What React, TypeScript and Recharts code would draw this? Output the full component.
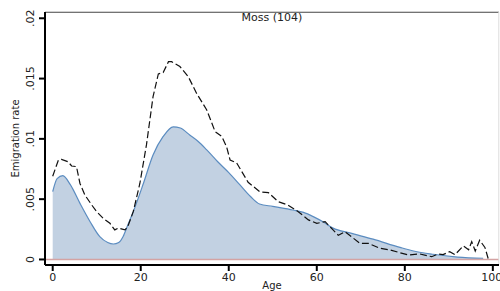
import { ComposedChart, Area, Line, XAxis, YAxis, ReferenceLine, Label } from 'recharts';

// smoothed rate (shaded area)
const areaAges = [0, 1, 2.3, 4, 6.2, 8.5, 10.7, 12.5, 13.8, 15, 16, 17, 18.3, 20.6, 22.8, 25.1, 27.4, 29, 31.2, 33, 35, 37.5, 40, 42.5, 45, 47, 50, 54.6, 57, 59.2, 61.5, 63.7, 67.5, 72.8, 78.9, 82, 86.4, 92, 97.8];
const areaRates = [0.00562, 0.0067, 0.00695, 0.0062, 0.00465, 0.00313, 0.00189, 0.0014, 0.00128, 0.0014, 0.0019, 0.0028, 0.00396, 0.0063, 0.00866, 0.0102, 0.011, 0.0109, 0.0103, 0.0098, 0.00908, 0.0081, 0.0072, 0.0062, 0.0052, 0.0046, 0.0044, 0.0041, 0.0039, 0.00355, 0.0031, 0.0026, 0.0022, 0.00168, 0.001, 0.0007, 0.00043, 0.0002, 0.0001];

// observed rate (dashed line)
const lineAges = [0, 1.3, 2, 3.5, 4.3, 5.4, 6.2, 7.3, 8.9, 10, 11.5, 13, 14.1, 14.9, 16.4, 17, 18.3, 19.8, 21.3, 22.8, 24, 25.1, 26.3, 27, 28.9, 30.8, 32.7, 35, 36.9, 38.4, 39.5, 40.3, 41.8, 44.4, 47.1, 49, 51.2, 53.5, 55.8, 58.1, 60, 61.9, 63.7, 64.9, 66.4, 69.8, 71.7, 74.3, 76.6, 80.8, 83.4, 86.1, 87.6, 88.7, 90.2, 91.4, 93.3, 94.5, 95.2, 96, 97, 98.2, 99];
const lineRates = [0.0069, 0.00825, 0.0083, 0.0081, 0.00775, 0.0077, 0.0063, 0.00535, 0.0045, 0.00396, 0.0034, 0.003, 0.00245, 0.0026, 0.00245, 0.00267, 0.00396, 0.0063, 0.0095, 0.0135, 0.01538, 0.0155, 0.0164, 0.0164, 0.016, 0.01516, 0.01377, 0.0124, 0.0106, 0.0102, 0.00935, 0.00825, 0.008, 0.0064, 0.0056, 0.00554, 0.0048, 0.0045, 0.00396, 0.00328, 0.003, 0.00313, 0.00245, 0.002, 0.0023, 0.00134, 0.00134, 0.00093, 0.00079, 0.00037, 0.00046, 0.00023, 0.00046, 0.0004, 0.00065, 0.0004, 0.00112, 0.0008, 0.00148, 0.0007, 0.0016, 0.001, 0];

const xTicks = [0, 20, 40, 60, 80, 100];
const yTicks = [0, 0.005, 0.01, 0.015, 0.02];

const X_DOMAIN = [-1.75, 101.4];
const Y_DOMAIN = [-0.00046, 0.02052];

const FONT = '"DejaVu Sans", sans-serif';
const AXIS = '#000';

// merge both series onto one age-sorted table
const rows: { age: number; smooth?: number; obs?: number }[] = [];
areaAges.forEach((a, i) => rows.push({ age: a, smooth: areaRates[i] }));
lineAges.forEach((a, i) => {
  const r = rows.find(x => x.age === a);
  if (r) r.obs = lineRates[i];
  else rows.push({ age: a, obs: lineRates[i] });
});
rows.sort((a, b) => a.age - b.age);

const fmt = (v: number) => (v === 0 ? '0' : String(v).replace(/^0\./, '.'));

function YTick({ x, y, payload }: any) {
  const tx = x - 3;
  return (
    <text x={tx} y={y} transform={`rotate(-90 ${tx} ${y})`} textAnchor="middle" fontSize={11} fill="#222" fontFamily={FONT}>
      {fmt(payload.value)}
    </text>
  );
}

export default function App() {
  return (
    <div style={{ position: 'absolute', left: 0, top: 0, width: 500, height: 291, background: '#fff' }}>
      <ComposedChart width={500} height={291} data={rows} margin={{ top: 12, right: 1, left: 0, bottom: 0 }}>
        <XAxis
          dataKey="age"
          type="number"
          domain={X_DOMAIN}
          ticks={xTicks}
          allowDataOverflow
          height={26}
          axisLine={{ stroke: AXIS, strokeWidth: 2 }}
          tickLine={{ stroke: AXIS, strokeWidth: 2 }}
          tick={{ fontSize: 11, fill: '#222', fontFamily: FONT }}
        >
          <Label value="Age" position="insideBottom" offset={2} style={{ fontSize: 10, fill: '#222', fontFamily: FONT }} />
        </XAxis>
        <YAxis
          type="number"
          domain={Y_DOMAIN}
          ticks={yTicks}
          allowDataOverflow
          width={45}
          axisLine={{ stroke: AXIS, strokeWidth: 2 }}
          tickLine={{ stroke: AXIS, strokeWidth: 2 }}
          tick={<YTick />}
        >
          <Label value="Emigration rate" angle={-90} position="insideLeft" offset={0} dx={15} style={{ fontSize: 10, fill: '#222', fontFamily: FONT, textAnchor: 'middle' }} />
        </YAxis>
        <Area
          dataKey="smooth"
          type="monotone"
          baseValue={0}
          connectNulls
          stroke="#5b8cc0"
          strokeWidth={1.2}
          fill="#c2d1e2"
          fillOpacity={1}
          dot={false}
          activeDot={false}
          isAnimationActive={false}
        />
        <ReferenceLine y={0} stroke="#d4a3a3" strokeWidth={1.5} />
        <ReferenceLine y={0.0205} stroke="#444" strokeWidth={1.2}>
          <Label value="Moss (104)" position="insideTop" offset={1} style={{ fontSize: 11, fill: '#222', fontFamily: FONT }} />
        </ReferenceLine>
        <ReferenceLine x={101.35} stroke="#ddd" strokeWidth={1} />
        <Line
          dataKey="obs"
          type="linear"
          connectNulls
          stroke="#111"
          strokeWidth={1.2}
          strokeDasharray="7 3"
          dot={false}
          activeDot={false}
          isAnimationActive={false}
        />
      </ComposedChart>
    </div>
  );
}
